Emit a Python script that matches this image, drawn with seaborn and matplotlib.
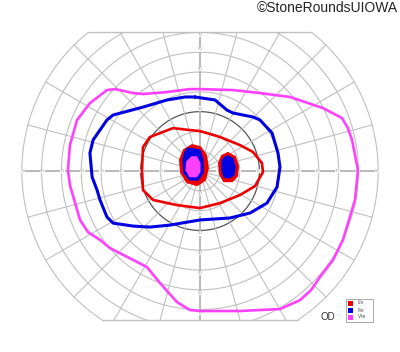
import numpy as np
import pandas as pd
import matplotlib
matplotlib.use("Agg")
import matplotlib.pyplot as plt
from matplotlib.patches import Rectangle, Polygon
import seaborn as sns

sns.set_theme(style="white")
plt.rcParams['font.family'] = ['Liberation Sans', 'DejaVu Sans']

# ---------------- data (degrees of visual field) ----------------
ring_radii = [10, 20, 30, 40, 50, 60, 70, 80, 90]
meridians = list(range(0, 360, 15))
h_labels = [10, 20, 30, 40, 50, 60, 70, 80, 90]
v_labels = [10, 20, 30, 40, 50, 60, 70]
legend_labels = ["I2e", "I4e", "V4e"]

v4e_x = [0, 16.7, 30.3, 45.5, 62.1, 71.7, 74.7, 76.8, 79.8, 78.3, 72.2, 67.2, 60.6, 56.1, 50.5, 40.4,
         20.2, 0, -5.1, -11.6, -20.2, -26.8, -33.8, -45.5, -50.5, -56.6, -60.6, -65.7, -66.7,
         -65.7, -62.1, -55.6, -47.0, -42.9, -33.8, -28.8, -16.7, -5.1]
v4e_y = [41.4, 40.9, 39.4, 37.4, 31.8, 26.8, 21.7, 15.7, 0.5, -14.6, -34.8, -44.9, -53.5, -60.1, -65.2, -69.7,
         -70.7, -70.7, -70.2, -66.2, -56.6, -48.5, -44.9, -38.9, -34.8, -30.8, -24.7, -7.1, 0.5,
         13.1, 25.8, 34.3, 40.9, 41.4, 39.4, 38.9, 39.9, 41.4]

i4e_x = [-2.5, 7.6, 13.6, 16.7, 26.8, 30.3, 36.4, 39.4, 40.4, 38.9, 33.8, 25.3, 15.2, 0,
         -15.2, -25.3, -33.8, -43.9, -47.0, -50.5, -52.0, -54.5, -55.6, -54.0, -47.0, -43.9,
         -28.8, -16.7, -7.6]
i4e_y = [37.4, 35.9, 30.8, 29.3, 27.3, 25.8, 19.2, 9.1, 2.0, -8.1, -16.2, -21.2, -23.7, -24.7,
         -27.3, -28.3, -27.8, -26.3, -23.2, -14.6, -9.6, -3.0, 9.1, 15.7, 25.8, 28.3,
         32.3, 35.9, 37.4]

i2e_x = [0, 10.1, 20.2, 26.8, 31.3, 31.8, 27.8, 20.2, 10.1, 0, -11.6, -23.7, -28.8, -29.3,
         -28.8, -25.3, -13.6, -5.1]
i2e_y = [20.2, 17.2, 13.1, 9.6, 4.0, -0.5, -7.6, -12.1, -16.2, -18.7, -17.2, -14.6, -9.6, 0.5,
         12.1, 17.2, 21.7, 20.7]

# central island (filled) and blind spot
center_i2e_x = [-4.0, 0.0, 3.0, 4.0, 2.5, -1.5, -6.6, -9.6, -10.1, -8.1]
center_i2e_y = [13.1, 12.1, 8.1, 1.5, -4.5, -7.1, -5.6, -0.5, 5.6, 10.6]
center_i4e_x = [-6.1, 0.0, 1.5, 1.5, -1.0, -5.1, -8.1, -8.6, -7.6]
center_i4e_y = [11.6, 10.6, 5.6, -1.0, -4.5, -4.5, -1.0, 5.6, 9.6]
center_v4e_x = [-4.2, -1.7, 0.0, 0.0, -1.7, -5.1, -7.1, -6.7]
center_v4e_y = [7.2, 7.2, 4.0, -0.4, -2.9, -2.9, 0.5, 4.7]
blind_i2e_x = [14.1, 17.7, 19.2, 18.7, 16.2, 12.1, 10.1, 9.6, 11.1]
blind_i2e_y = [9.1, 7.1, 2.5, -2.5, -5.1, -5.1, -1.5, 4.0, 7.6]
blind_i4e_x = [14.1, 16.7, 17.7, 17.2, 14.6, 12.1, 11.1, 11.1, 12.6]
blind_i4e_y = [7.6, 6.1, 2.0, -2.0, -3.5, -3.0, 0.5, 5.1, 7.1]

RED = "#ee0000"
BLUE = "#0000e0"
MAG = "#ff40ff"
colors = [RED, BLUE, MAG]

TOP, BOT = 70.2, -75.3
GRID = "#c0c0c0"

# ---------------- figure ----------------
fig = plt.figure(figsize=(4.0, 3.52), dpi=100)
ax = fig.add_axes([0, 0, 1, 1])
ax.set_xlim(-101.0, 101.0)
ax.set_ylim(-91.4, 86.4)
ax.set_aspect('equal')
ax.axis('off')

clip = Rectangle((-95, BOT), 190, TOP - BOT, transform=ax.transData)

th = np.linspace(0, 2 * np.pi, 721)
for r in ring_radii:
    dark = (r == 30)
    ln, = ax.plot(r * np.cos(th), r * np.sin(th), color="#555555" if dark else GRID,
                  lw=0.9 if dark else 0.8, zorder=1)
    ln.set_clip_path(clip)

for a in meridians:
    t = np.deg2rad(a)
    axis_line = (a % 90 == 0)
    ln, = ax.plot([0, 90 * np.cos(t)], [0, 90 * np.sin(t)], color="#b4b4b4" if axis_line else GRID,
                  lw=1.3 if axis_line else 0.8, zorder=1)
    ln.set_clip_path(clip)

# clipping edges
for yy in (TOP, BOT):
    hw = np.sqrt(90 ** 2 - yy ** 2)
    ax.plot([-hw, hw], [yy, yy], color=GRID, lw=1.0, zorder=1)

# axis labels
for r in h_labels:
    for s in (-1, 1):
        ax.text(s * (r - 0.5), 0, str(r), fontsize=3.2, color="#999999", ha='center', va='center',
                zorder=2, bbox=dict(boxstyle='square,pad=0.05', fc='white', ec='none'))
for r in v_labels:
    ytop = min(r + 1.5, 68.7)
    ax.text(0, ytop, str(r), fontsize=3.2, color="#999999", ha='center', va='center', zorder=2,
            bbox=dict(boxstyle='square,pad=0.05', fc='white', ec='none'))
    ax.text(0, -(r + 1.5), str(r), fontsize=3.2, color="#999999", ha='center', va='center', zorder=2,
            bbox=dict(boxstyle='square,pad=0.05', fc='white', ec='none'))

# isopters
for xs, ys, c, lw in [(v4e_x, v4e_y, MAG, 1.9), (i4e_x, i4e_y, BLUE, 2.2), (i2e_x, i2e_y, RED, 1.9)]:
    df = pd.DataFrame({"x": list(xs) + [xs[0]], "y": list(ys) + [ys[0]]})
    sns.lineplot(data=df, x="x", y="y", sort=False, estimator=None, color=c, lw=lw, ax=ax,
                 zorder=4, solid_joinstyle='round')

# filled scotoma / island regions
for xs, ys, fc, ec, lw in [(center_i2e_x, center_i2e_y, RED, RED, 1.5),
                           (center_i4e_x, center_i4e_y, BLUE, BLUE, 1.0),
                           (center_v4e_x, center_v4e_y, MAG, MAG, 0.8),
                           (blind_i2e_x, blind_i2e_y, RED, RED, 1.5),
                           (blind_i4e_x, blind_i4e_y, BLUE, BLUE, 1.0)]:
    ax.add_patch(Polygon(np.column_stack([xs, ys]), closed=True, fc=fc, ec=ec, lw=lw,
                         joinstyle='round', zorder=5))

ax.set_xlabel("")
ax.set_ylabel("")
leg = ax.get_legend()
if leg is not None:
    leg.remove()

# legend box (manual)
W, H = 400.0, 352.0
fig.patches.append(Rectangle((346 / W, 1 - 322 / H), 27 / W, 23 / H, transform=fig.transFigure,
                             fc='white', ec='#aaaaaa', lw=0.7))
for i, (lab, c) in enumerate(zip(legend_labels, colors)):
    yc = 303 + 7 * i
    fig.patches.append(Rectangle((348 / W, 1 - (yc + 2.5) / H), 5 / W, 5 / H, transform=fig.transFigure,
                                 fc=c, ec='none'))
    fig.text(358 / W, 1 - yc / H, lab, fontsize=3.3, color="#555555", ha='left', va='center')

fig.text(328 / W, 1 - 317 / H, "OD", fontsize=7, color="#333333", ha='center', va='center')
fig.text(398 / W, 1 - 8 / H, "©StoneRoundsUIOWA", fontsize=10, color="#222222", ha='right', va='center')

fig.savefig("out.png", dpi=100, facecolor='white')
